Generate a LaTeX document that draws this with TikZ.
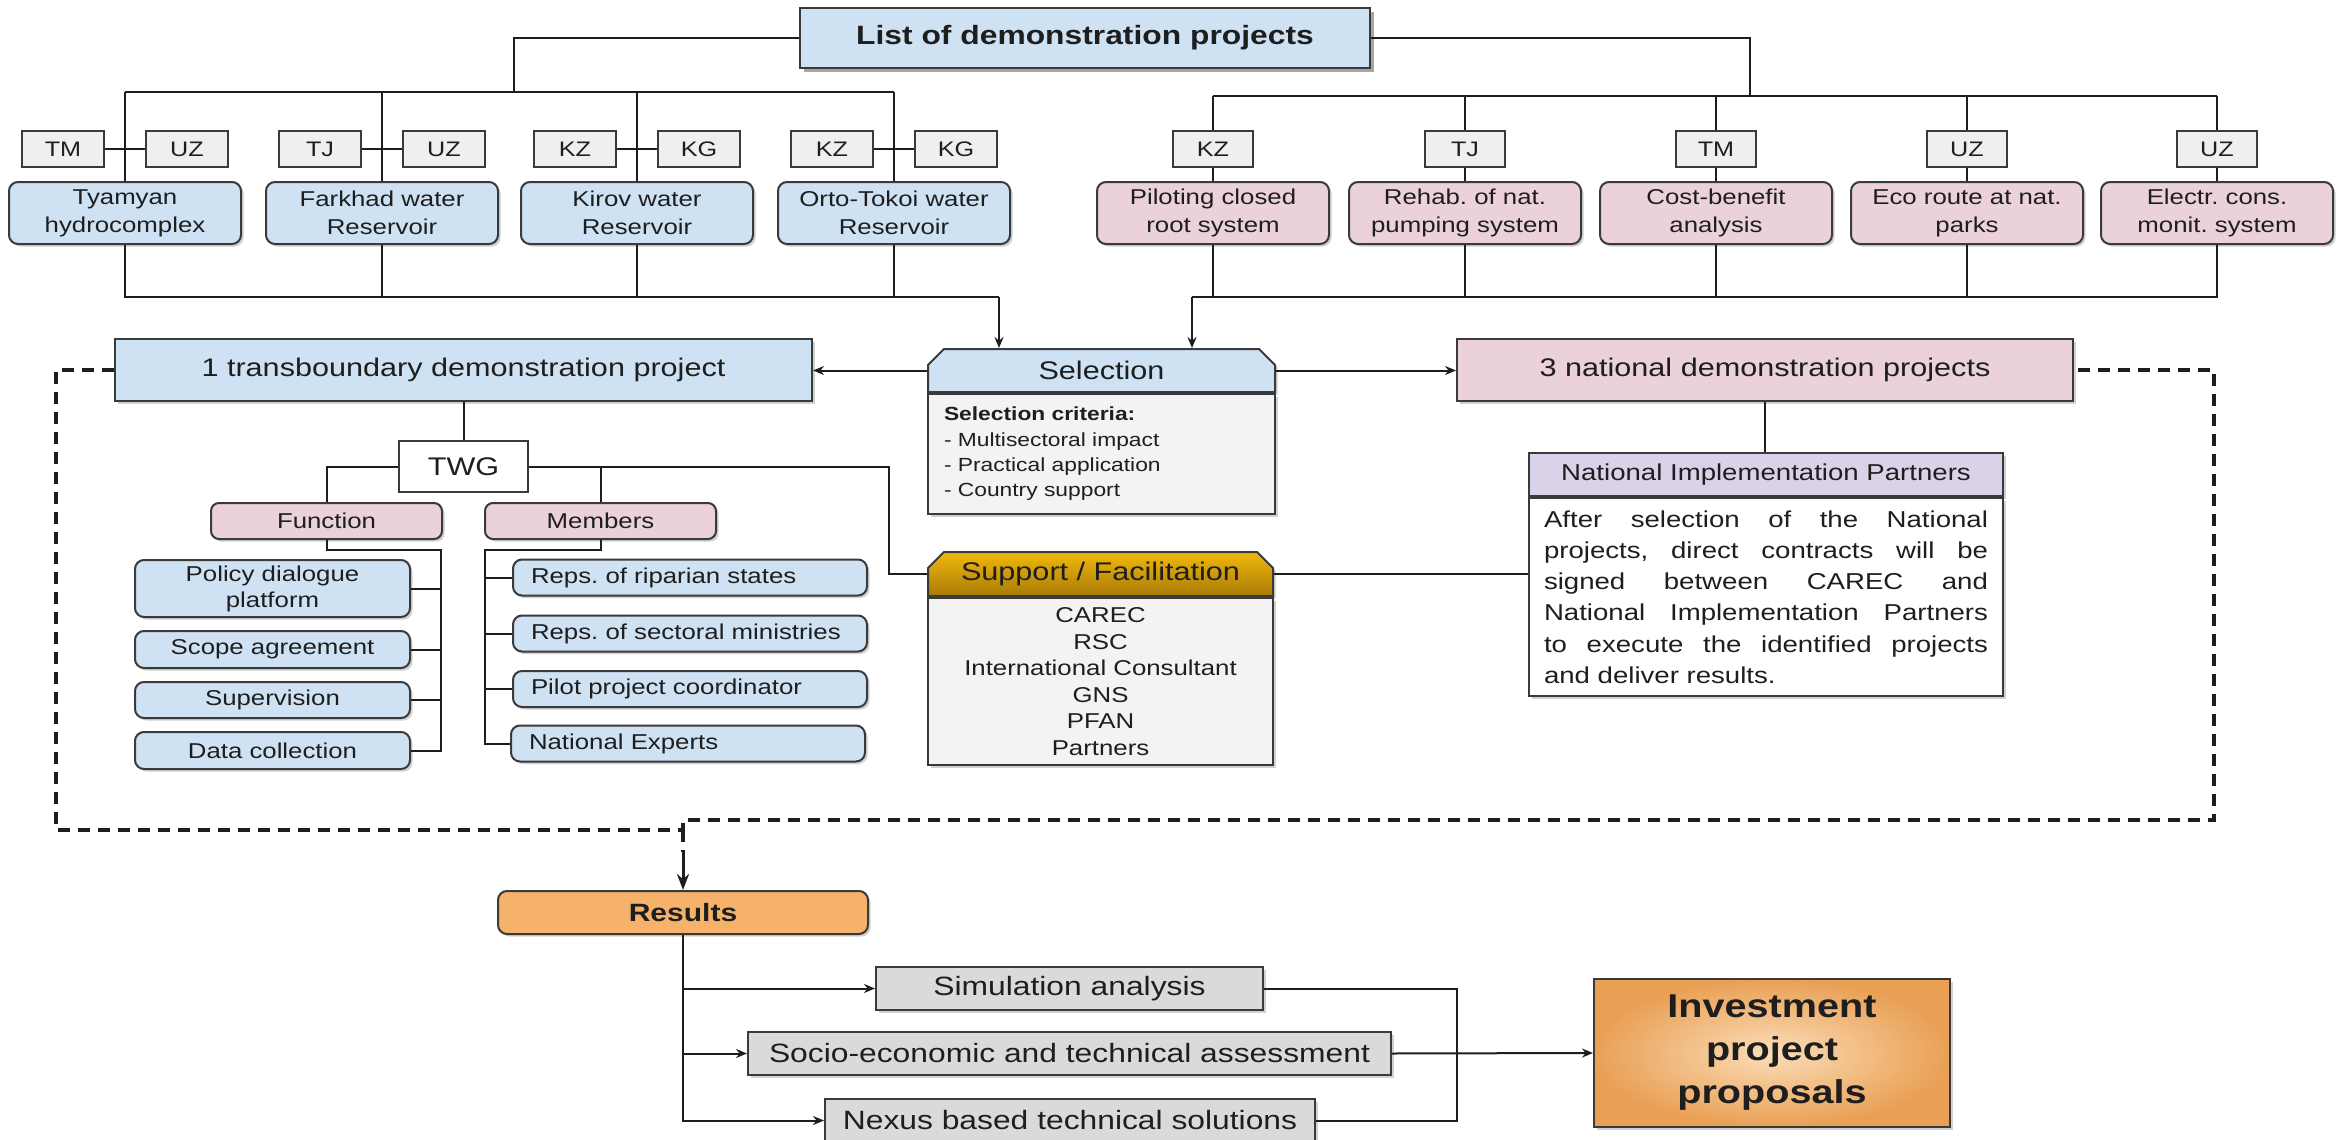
\documentclass[tikz,border=0pt]{standalone}
\usepackage{fontspec}
\setmainfont{Liberation Sans}[FakeStretch=1.2]
\usetikzlibrary{arrows.meta,shapes.misc,shadows,calc}
\definecolor{bluefill}{HTML}{CFE2F3}
\definecolor{pinkfill}{HTML}{EAD1DC}
\definecolor{tagfill}{HTML}{EFEFEF}
\definecolor{bodyfill}{HTML}{F3F3F3}
\definecolor{grayfill}{HTML}{DADADA}
\definecolor{orangefill}{HTML}{F6B26B}
\definecolor{lavfill}{HTML}{D9D2E9}
\definecolor{goldtop}{HTML}{F2B90C}
\definecolor{goldbot}{HTML}{A87A05}
\definecolor{invlight}{HTML}{FBDDB8}
\definecolor{invdark}{HTML}{E9A055}
\definecolor{edge}{HTML}{3A3A3A}
\definecolor{ink}{HTML}{1E1E1E}
\newcommand\fsTitle{\fontsize{26.5}{32}\selectfont\bfseries}
\newcommand\fsHead{\fontsize{25.5}{31}\selectfont}
\newcommand\fsBox{\fontsize{21.5}{28}\selectfont}
\newcommand\fsSmall{\fontsize{19}{25.3}\selectfont}
\newcommand\fsNip{\fontsize{23}{31.2}\selectfont}
\newcommand\fsBig{\fontsize{26.5}{32}\selectfont}
\newcommand\fsInv{\fontsize{33}{43}\selectfont\bfseries}
\newcommand\fsTag{\fontsize{21}{26}\selectfont}
\newcommand\jline[1]{\makebox[444pt][s]{\spaceskip=0pt\relax\xspaceskip=0pt\relax #1}}
\frenchspacing
\begin{document}
\begin{tikzpicture}[x=1pt,y=-1pt,
  box/.style={draw=edge, line width=2pt, inner sep=0pt, align=center, text=ink},
  shad/.style={drop shadow={shadow xshift=2.5pt, shadow yshift=-2.5pt, opacity=0.18, fill=black}},
  tagbox/.style={box, fill=tagfill, minimum width=82, minimum height=36, font=\fsTag},
  bproj/.style={box, shad, rounded corners=9, fill=bluefill, minimum width=232, minimum height=62, font=\fsBox},
  pproj/.style={bproj, fill=pinkfill},
  fitem/.style={box, shad, rounded corners=9, fill=bluefill, minimum width=275, font=\fsBox},
  mitem/.style={box, shad, rounded corners=9, fill=bluefill, text width=318, inner xsep=18, align=left, minimum height=36, font=\fsBox},
  chamf/.style={box, chamfered rectangle, chamfered rectangle corners={north west,north east}, chamfered rectangle xsep=8pt, chamfered rectangle ysep=8pt},
  resbox/.style={box, shad, fill=grayfill, minimum height=43, font=\fsBig},
  link/.style={draw=ink, line width=2pt},
  arr/.style={link, -{Stealth[length=11pt,width=9pt]}},
  dline/.style={draw=ink, line width=4pt, dash pattern=on 12pt off 8pt}
]
\fill[white] (0,0) rectangle (2351,1140);
\useasboundingbox (0,0) rectangle (2351,1140);

% title
\node[box, fill=bluefill, minimum width=570, minimum height=60, font=\fsTitle,
      drop shadow={shadow xshift=4pt, shadow yshift=-4pt, opacity=0.35, fill=black}] (title) at (1085,38) {List of demonstration projects};

% tags left
\node[tagbox] (t1a) at (63,149) {TM};  \node[tagbox] (t1b) at (187,149) {UZ};
\node[tagbox] (t2a) at (320,149) {TJ};  \node[tagbox] (t2b) at (444,149) {UZ};
\node[tagbox] (t3a) at (575,149) {KZ};  \node[tagbox] (t3b) at (699,149) {KG};
\node[tagbox] (t4a) at (832,149) {KZ};  \node[tagbox] (t4b) at (956,149) {KG};
% tags right
\node[tagbox, minimum width=80] (r1) at (1213,149) {KZ};
\node[tagbox, minimum width=80] (r2) at (1465,149) {TJ};
\node[tagbox, minimum width=80] (r3) at (1716,149) {TM};
\node[tagbox, minimum width=80] (r4) at (1967,149) {UZ};
\node[tagbox, minimum width=80] (r5) at (2217,149) {UZ};

% projects
\node[bproj] (p1) at (125,213) {Tyamyan\\hydrocomplex};
\node[bproj] (p2) at (382,213) {Farkhad water\\Reservoir};
\node[bproj] (p3) at (637,213) {Kirov water\\Reservoir};
\node[bproj] (p4) at (894,213) {Orto-Tokoi water\\Reservoir};
\node[pproj] (q1) at (1213,213) {Piloting closed\\root system};
\node[pproj] (q2) at (1465,213) {Rehab. of nat.\\pumping system};
\node[pproj] (q3) at (1716,213) {Cost-benefit\\analysis};
\node[pproj] (q4) at (1967,213) {Eco route at nat.\\parks};
\node[pproj] (q5) at (2217,213) {Electr. cons.\\monit. system};

% selection
\node[chamf, shad, fill=bluefill, minimum width=347, minimum height=43, font=\fsHead] (selh) at (1101.5,370.5) {Selection};
\node[box, shad, fill=bodyfill, minimum width=347, minimum height=120, anchor=north, text width=315, inner xsep=16, align=left, font=\fsSmall] (selb) at (selh.south) {\textbf{Selection criteria:}\\- Multisectoral impact\\- Practical application\\- Country support};

% transboundary & national
\node[box, shad, fill=bluefill, minimum width=697, minimum height=62, font=\fsHead] (trans) at (463.5,370) {1 transboundary demonstration project};
\node[box, shad, fill=pinkfill, minimum width=616, minimum height=62, font=\fsHead] (nat) at (1765,370) {3 national demonstration projects};

% TWG
\node[box, fill=white, minimum width=129, minimum height=51, font=\fsHead] (twg) at (463.5,466.5) {TWG};
\node[box, shad, fill=pinkfill, rounded corners=8, minimum width=231, minimum height=36, font=\fsBox] (func) at (326.5,521) {Function};
\node[box, shad, fill=pinkfill, rounded corners=8, minimum width=231, minimum height=36, font=\fsBox] (mem) at (600.5,521) {Members};

\node[fitem, minimum height=57, font=\fontsize{21.5}{26}\selectfont] (f1) at (272.5,588.5) {Policy dialogue\\platform};
\node[fitem, minimum height=37] (f2) at (272.5,649.5) {Scope agreement};
\node[fitem, minimum height=36] (f3) at (272.5,700) {Supervision};
\node[fitem, minimum height=37] (f4) at (272.5,750.5) {Data collection};

\node[mitem] (m1) at (690,577.5) {Reps. of riparian states};
\node[mitem] (m2) at (690,633.5) {Reps. of sectoral ministries};
\node[mitem] (m3) at (690,689) {Pilot project coordinator};
\node[mitem] (m4) at (688,743.5) {National Experts};

% support
\node[chamf, shad, top color=goldtop, bottom color=goldbot, minimum width=345, minimum height=44, font=\fsHead] (suph) at (1100.5,574) {Support / Facilitation};
\node[box, shad, fill=bodyfill, minimum width=345, minimum height=167, anchor=north, font=\fontsize{21.5}{26.6}\selectfont] (supb) at (suph.south) {CAREC\\RSC\\International Consultant\\GNS\\PFAN\\Partners};

% NIP
\node[box, shad, fill=lavfill, minimum width=474, minimum height=43, font=\fsNip] (niph) at (1766,474.5) {National Implementation Partners};
\node[box, shad, fill=white, minimum width=474, minimum height=198, anchor=north, text width=444, inner xsep=15, align=left, font=\fsNip] (nipb) at (niph.south) {\jline{After selection of the National}\\
\jline{projects, direct contracts will be}\\
\jline{signed between CAREC and}\\
\jline{National Implementation Partners}\\
\jline{to execute the identified projects}\\
and deliver results.};

% results
\node[box, shad, fill=orangefill, rounded corners=9, minimum width=370, minimum height=43, font=\fontsize{25}{30}\selectfont\bfseries] (res) at (683,912.5) {Results};
\node[resbox, minimum width=387] (sim) at (1069.5,988.5) {Simulation analysis};
\node[resbox, minimum width=643] (soc) at (1069.5,1053.5) {Socio-economic and technical assessment};
\node[resbox, minimum width=490] (nex) at (1070,1120.5) {Nexus based technical solutions};
\node[box, shad, inner color=invlight, outer color=invdark, minimum width=356, minimum height=148, font=\fsInv] (inv) at (1772,1053) {Investment\\project\\proposals};

% ---------- connectors ----------
\coordinate (bL) at (514,92);
\coordinate (bR) at (1750,96);
\draw[link] (title.west) -| (bL);
\draw[link] (p1.north |- bL) -- (p4.north |- bL);
\foreach \p in {p1,p2,p3,p4} \draw[link] (\p.north |- bL) -- (\p.north);
\draw[link] (t1a.east) -- (t1b.west);
\draw[link] (t2a.east) -- (t2b.west);
\draw[link] (t3a.east) -- (t3b.west);
\draw[link] (t4a.east) -- (t4b.west);

\draw[link] (title.east) -| (bR);
\draw[link] (q1.north |- bR) -- (q5.north |- bR);
\foreach \i in {1,...,5} {
  \draw[link] (q\i.north |- bR) -- (r\i.north);
  \draw[link] (r\i.south) -- (q\i.north);
}

\coordinate (lb) at (999,297);
\coordinate (rb) at (1192,297);
\draw[link] (p1.south) |- (lb);
\foreach \p in {p2,p3,p4} \draw[link] (\p.south) -- (\p.south |- lb);
\draw[arr] (lb) -- (lb |- selh.north);
\draw[link] (q5.south) |- (rb);
\foreach \q in {q1,q2,q3,q4} \draw[link] (\q.south) -- (\q.south |- rb);
\draw[arr] (rb) -- (rb |- selh.north);

\draw[arr] (selh.west) -- (selh.west -| trans.east);
\draw[arr] (selh.east) -- (selh.east -| nat.west);

\draw[link] (trans.south) -- (trans.south |- twg.north);
\draw[link] (twg.west) -| (func.north);
\coordinate (tj) at (889,466.5);
\draw[link] (twg.east) -- (tj) |- (suph.west);
\draw[link] (mem.north) -- (mem.north |- twg.east);

\coordinate (fv) at (441,550);
\draw[link] (func.south) |- (fv) |- (f4.east);
\foreach \f in {f1,f2,f3} \draw[link] (\f.east) -- (\f.east -| fv);
\coordinate (mv) at (485,550);
\draw[link] (mem.south) |- (mv) |- (m4.west);
\foreach \m in {m1,m2,m3} \draw[link] (\m.west) -- (\m.west -| mv);

\draw[link] (suph.east) -- (suph.east -| nipb.west);
\draw[link] (nat.south) -- (nat.south |- niph.north);

\coordinate (dLB) at (56,830);
\coordinate (dJ) at (683,830);
\coordinate (dJ2) at (683,820);
\coordinate (dRB) at (2214,820);
\coordinate (dA) at (683,852);
\draw[dline] (trans.west) -| (dLB) -- (dJ) -- (dJ2) -- (dRB) |- (nat.east);
\draw[dline] (dJ) -- (dA);
\draw[draw=ink, line width=3pt, -{Stealth[length=16pt,width=12pt]}] (dA) -- (res.north);

\draw[arr] (res.south) |- (nex.west);
\draw[arr] (res.south |- sim.west) -- (sim.west);
\draw[arr] (res.south |- soc.west) -- (soc.west);
\coordinate (jc) at (1457,1053.5);
\draw[link] (sim.east) -| (jc);
\draw[link] (nex.east) -| (jc);
\draw[arr] (soc.east) -- (inv.west);
\end{tikzpicture}
\end{document}
